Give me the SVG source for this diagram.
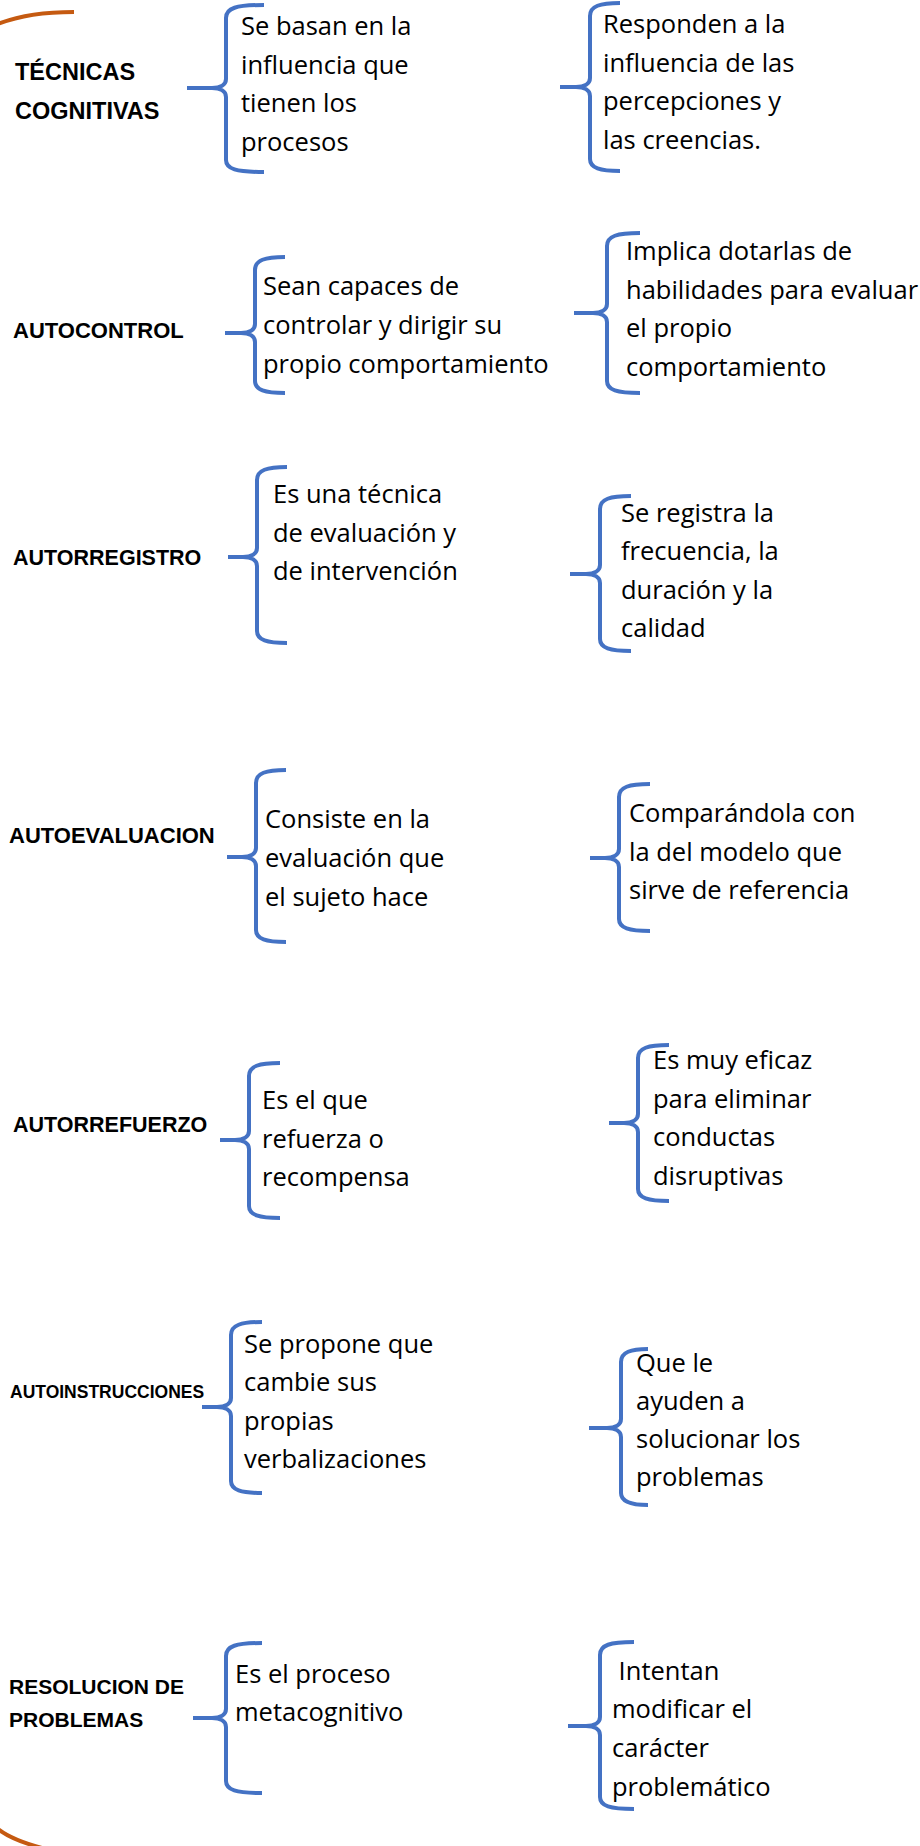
<svg xmlns="http://www.w3.org/2000/svg" width="920" height="1846" viewBox="0 0 920 1846">
<defs>
<style>
.bg{fill:#ffffff}
.brace{fill:none;stroke:#4472C4;stroke-width:4;stroke-linecap:butt;stroke-linejoin:round}
.frame{fill:none;stroke:#C55A11;stroke-width:4}
.lbl{font-family:"Liberation Sans",Arial,sans-serif;font-weight:bold;font-size:22px;fill:#000}
.txt{font-family:"Open Sans","Liberation Sans",sans-serif;font-size:25.5px;fill:#000}
</style>
</defs>
<rect class="bg" x="0" y="0" width="920" height="1846"/>
<g id="frame">
<path class="frame" d="M74,12 Q28,12 -2,24"/>
<path class="frame" d="M-2,1829 Q12,1840 42,1848"/>
</g>
<g id="connectors">
<path class="brace" d="M264,5 C236,5 226,8 226,18 L226,79 C226,85 220,88 212,88 L187,88 M212,88 C220,88 226,91 226,97 L226,160 C226,169 236,172 264,172"/>
<path class="brace" d="M620,3 C600,3 590,6 590,16 L590,78 C590,84 584,87 576,87 L560,87 M576,87 C584,87 590,90 590,96 L590,159 C590,168 600,171 620,171"/>
<path class="brace" d="M285,257 C265,257 255,260 255,270 L255,324 C255,330 249,333 241,333 L225,333 M241,333 C249,333 255,336 255,342 L255,381 C255,390 265,393 285,393"/>
<path class="brace" d="M640,233 C617,233 607,236 607,246 L607,304 C607,310 601,313 593,313 L574,313 M593,313 C601,313 607,316 607,322 L607,381 C607,390 617,393 640,393"/>
<path class="brace" d="M287,467 C267,467 257,470 257,480 L257,548 C257,554 251,557 243,557 L228,557 M243,557 C251,557 257,560 257,566 L257,631 C257,640 267,643 287,643"/>
<path class="brace" d="M631,496 C610,496 600,499 600,509 L600,565 C600,571 594,574 586,574 L570,574 M586,574 C594,574 600,577 600,583 L600,639 C600,648 610,651 631,651"/>
<path class="brace" d="M286,770 C266,770 256,773 256,783 L256,848 C256,854 250,857 242,857 L227,857 M242,857 C250,857 256,860 256,866 L256,930 C256,939 266,942 286,942"/>
<path class="brace" d="M650,784 C629,784 619,787 619,797 L619,849 C619,855 613,858 605,858 L590,858 M605,858 C613,858 619,861 619,867 L619,919 C619,928 629,931 650,931"/>
<path class="brace" d="M280,1063 C259,1063 249,1066 249,1076 L249,1131 C249,1137 243,1140 235,1140 L220,1140 M235,1140 C243,1140 249,1143 249,1149 L249,1206 C249,1215 259,1218 280,1218"/>
<path class="brace" d="M669,1045 C648,1045 638,1048 638,1058 L638,1114 C638,1120 632,1123 624,1123 L609,1123 M624,1123 C632,1123 638,1126 638,1132 L638,1189 C638,1198 648,1201 669,1201"/>
<path class="brace" d="M262,1322 C241,1322 231,1325 231,1335 L231,1398 C231,1404 225,1407 217,1407 L202,1407 M217,1407 C225,1407 231,1410 231,1416 L231,1481 C231,1490 241,1493 262,1493"/>
<path class="brace" d="M648,1349 C631,1349 621,1352 621,1362 L621,1419 C621,1425 615,1428 607,1428 L589,1428 M607,1428 C615,1428 621,1431 621,1437 L621,1493 C621,1502 631,1505 648,1505"/>
<path class="brace" d="M262,1643 C236,1643 226,1646 226,1656 L226,1709 C226,1715 220,1718 212,1718 L193,1718 M212,1718 C220,1718 226,1721 226,1727 L226,1781 C226,1790 236,1793 262,1793"/>
<path class="brace" d="M634,1642 C610,1642 600,1645 600,1655 L600,1717 C600,1723 594,1726 586,1726 L568,1726 M586,1726 C594,1726 600,1729 600,1735 L600,1797 C600,1806 610,1809 634,1809"/>
</g>
<g id="n-tecnicas"><text class="lbl" style="font-size:23.5px" x="15" y="80">TÉCNICAS</text><text class="lbl" style="font-size:23.5px" x="15" y="119">COGNITIVAS</text></g>
<g id="n-tecnicas-a"><text class="txt" x="241" y="35">Se basan en la</text><text class="txt" x="241" y="73.5">influencia que</text><text class="txt" x="241" y="112">tienen los</text><text class="txt" x="241" y="150.5">procesos</text></g>
<g id="n-tecnicas-b"><text class="txt" x="603" y="33">Responden a la</text><text class="txt" x="603" y="71.5">influencia de las</text><text class="txt" x="603" y="110">percepciones y</text><text class="txt" x="603" y="148.5">las creencias.</text></g>
<g id="n-autocontrol"><text class="lbl" x="13" y="338">AUTOCONTROL</text></g>
<g id="n-autocontrol-a"><text class="txt" x="263" y="295">Sean capaces de</text><text class="txt" x="263" y="334">controlar y dirigir su</text><text class="txt" x="263" y="373">propio comportamiento</text></g>
<g id="n-autocontrol-b"><text class="txt" x="626" y="260">Implica dotarlas de</text><text class="txt" x="626" y="298.5">habilidades para evaluar</text><text class="txt" x="626" y="337">el propio</text><text class="txt" x="626" y="375.5">comportamiento</text></g>
<g id="n-autorregistro"><text class="lbl" style="font-size:21.5px" x="13" y="565">AUTORREGISTRO</text></g>
<g id="n-autorregistro-a"><text class="txt" x="273" y="503">Es una técnica</text><text class="txt" x="273" y="541.5">de evaluación y</text><text class="txt" x="273" y="580">de intervención</text></g>
<g id="n-autorregistro-b"><text class="txt" x="621" y="522">Se registra la</text><text class="txt" x="621" y="560">frecuencia, la</text><text class="txt" x="621" y="598.5">duración y la</text><text class="txt" x="621" y="637">calidad</text></g>
<g id="n-autoevaluacion"><text class="lbl" x="9" y="843">AUTOEVALUACION</text></g>
<g id="n-autoevaluacion-a"><text class="txt" x="265" y="828">Consiste en la</text><text class="txt" x="265" y="867">evaluación que</text><text class="txt" x="265" y="906">el sujeto hace</text></g>
<g id="n-autoevaluacion-b"><text class="txt" x="629" y="822">Comparándola con</text><text class="txt" x="629" y="861">la del modelo que</text><text class="txt" x="629" y="899">sirve de referencia</text></g>
<g id="n-autorrefuerzo"><text class="lbl" style="font-size:21.5px" x="13" y="1132">AUTORREFUERZO</text></g>
<g id="n-autorrefuerzo-a"><text class="txt" x="262" y="1109">Es el que</text><text class="txt" x="262" y="1147.5">refuerza o</text><text class="txt" x="262" y="1186">recompensa</text></g>
<g id="n-autorrefuerzo-b"><text class="txt" x="653" y="1069">Es muy eficaz</text><text class="txt" x="653" y="1107.5">para eliminar</text><text class="txt" x="653" y="1146">conductas</text><text class="txt" x="653" y="1184.5">disruptivas</text></g>
<g id="n-autoinstrucciones"><text class="lbl" style="font-size:17.5px" x="10" y="1398">AUTOINSTRUCCIONES</text></g>
<g id="n-autoinstrucciones-a"><text class="txt" x="244" y="1353">Se propone que</text><text class="txt" x="244" y="1391">cambie sus</text><text class="txt" x="244" y="1429.5">propias</text><text class="txt" x="244" y="1468">verbalizaciones</text></g>
<g id="n-autoinstrucciones-b"><text class="txt" x="636" y="1372">Que le</text><text class="txt" x="636" y="1410">ayuden a</text><text class="txt" x="636" y="1448">solucionar los</text><text class="txt" x="636" y="1486">problemas</text></g>
<g id="n-resolucion"><text class="lbl" style="font-size:21px" x="9" y="1694">RESOLUCION DE</text><text class="lbl" style="font-size:21px" x="9" y="1727">PROBLEMAS</text></g>
<g id="n-resolucion-a"><text class="txt" x="235" y="1683">Es el proceso</text><text class="txt" x="235" y="1721">metacognitivo</text></g>
<g id="n-resolucion-b"><text class="txt" x="612" y="1680" xml:space="preserve"> Intentan</text><text class="txt" x="612" y="1718">modificar el</text><text class="txt" x="612" y="1757">carácter</text><text class="txt" x="612" y="1796">problemático</text></g>
</svg>
